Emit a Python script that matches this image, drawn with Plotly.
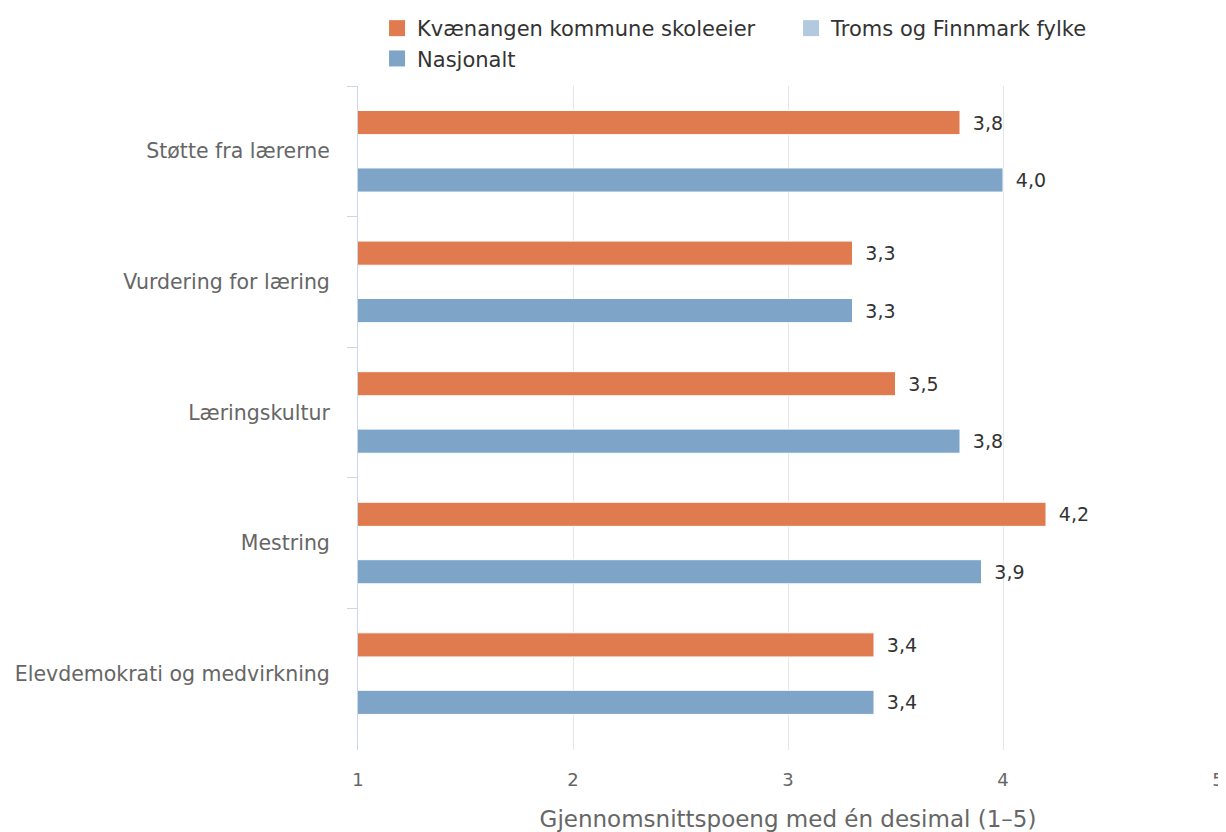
import plotly.graph_objects as go

categories = ["Støtte fra lærerne", "Vurdering for læring", "Læringskultur", "Mestring", "Elevdemokrati og medvirkning"]
kvaenangen = [3.8, 3.3, 3.5, 4.2, 3.4]
troms = [None, None, None, None, None]
nasjonalt = [4.0, 3.3, 3.8, 3.9, 3.4]
x_ticks = [1, 2, 3, 4, 5]

series = [
    ("Kvænangen kommune skoleeier", kvaenangen, "#e07b4f"),
    ("Troms og Finnmark fylke", troms, "#b2c9e0"),
    ("Nasjonalt", nasjonalt, "#7ea4c8"),
]

FONT = "DejaVu Sans"
fig = go.Figure()
for name, vals, color in series:
    fig.add_trace(go.Bar(
        name=name, y=categories, x=vals, orientation="h",
        marker=dict(color=color, line=dict(color="white", width=1)),
        texttemplate="\u00a0\u2009%{x:.1f}", textposition="outside",
        textfont=dict(family=FONT, size=19, color="#333333"),
        cliponaxis=False,
        legendgroup=name, showlegend=False,
    ))
# legend entries with larger square swatches
for name, vals, color in series:
    fig.add_trace(go.Scatter(
        name=name, x=[None], y=[None], mode="markers",
        marker=dict(symbol="square", size=16, color=color),
        legendgroup=name, showlegend=True, hoverinfo="skip",
    ))

fig.update_layout(
    width=1218, height=824,
    margin=dict(l=350, r=8, t=78, b=82, autoexpand=False),
    paper_bgcolor="white", plot_bgcolor="white",
    barmode="group", bargap=0.34, bargroupgap=0.16,
    separators=", ",
    font=dict(family=FONT, color="#666666"),
    legend=dict(
        orientation="h", x=0.303, xanchor="left", xref="container",
        y=1.0, yanchor="top", yref="container",
        font=dict(family=FONT, size=21, color="#333333"),
        entrywidth=369, entrywidthmode="pixels",
        traceorder="normal", itemsizing="trace",
    ),
    showlegend=True,
)

fig.update_xaxes(
    range=[1, 5], tickvals=x_ticks, ticktext=[str(v) for v in x_ticks],
    showgrid=True, gridcolor="#e6e6e6", gridwidth=1,
    zeroline=False, showline=False,
    ticks="outside", ticklen=13, tickcolor="rgba(0,0,0,0)",
    tickfont=dict(family=FONT, size=18, color="#666666"),
    ticklabeloverflow="allow",
    title=dict(text="Gjennomsnittspoeng med én desimal (1–5)",
               font=dict(family=FONT, size=23, color="#666666"), standoff=22),
)
fig.update_yaxes(
    type="category", categoryorder="array", categoryarray=categories,
    range=[4.585, -0.5],
    showgrid=False, zeroline=False,
    showline=True, linecolor="#ccd6eb", linewidth=1,
    ticks="outside", tickson="boundaries", ticklen=10, tickcolor="#ccd6eb",
    tickfont=dict(family=FONT, size=20.5, color="#666666"),
    ticklabelstandoff=23,
)

fig.write_html("out.html")
